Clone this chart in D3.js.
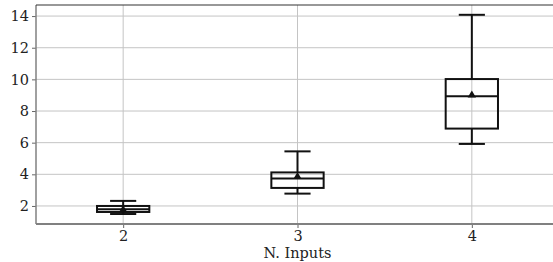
<!DOCTYPE html>
<html lang="en">
<head>
    <meta charset="UTF-8">
    <title>N. Inputs box plot</title>
    <script src="https://d3js.org/d3.v7.min.js"></script>
    <style>
        body { margin: 0; background: #fff; }
        svg text { font-family: "DejaVu Serif", serif; fill: #222; }
    </style>
</head>
<body>
    <svg width="553" height="262"></svg>
    <script>
        // categories and box statistics
        const categories = [2, 3, 4];
        const whiskerLow = [1.49, 2.78, 5.92];
        const q1 = [1.62, 3.14, 6.89];
        const median = [1.8, 3.73, 8.94];
        const q3 = [2.0, 4.12, 10.02];
        const whiskerHigh = [2.32, 5.45, 14.08];
        const means = [1.75, 3.85, 9.0];
        const yTicks = [2, 4, 6, 8, 10, 12, 14];

        const svg = d3.select("svg");
        const margin = { top: 5, right: -6, bottom: 38, left: 36 };
        const width = 553 - margin.left - margin.right;
        const height = 262 - margin.top - margin.bottom;

        const g = svg.append("g")
            .attr("transform", `translate(${margin.left},${margin.top})`);

        const x = d3.scaleLinear().domain([1.5, 4.5]).range([0, width]);
        const y = d3.scaleLinear().domain([0.86, 14.7]).range([height, 0]);

        // grid
        g.selectAll(".hgrid").data(yTicks).enter().append("line")
            .attr("x1", 0).attr("x2", width)
            .attr("y1", d => y(d)).attr("y2", d => y(d))
            .attr("stroke", "#c4c4c4").attr("stroke-width", 1);
        g.selectAll(".vgrid").data(categories).enter().append("line")
            .attr("y1", 0).attr("y2", height)
            .attr("x1", d => x(d)).attr("x2", d => x(d))
            .attr("stroke", "#c4c4c4").attr("stroke-width", 1);

        // axes
        const yAxis = g.append("g")
            .call(d3.axisLeft(y).tickValues(yTicks).tickSize(4).tickPadding(3));
        yAxis.select(".domain").remove();
        yAxis.selectAll("line").attr("stroke", "#666");
        yAxis.selectAll("text").style("font-size", "14.5px").attr("fill", "#222");

        const xAxis = g.append("g")
            .attr("transform", `translate(0,${height})`)
            .call(d3.axisBottom(x).tickValues(categories).tickFormat(d3.format("d")).tickSize(4).tickPadding(3));
        xAxis.select(".domain").remove();
        xAxis.selectAll("line").attr("stroke", "#666");
        xAxis.selectAll("text").style("font-size", "14.5px").attr("fill", "#222");

        // spines
        g.append("line").attr("x1", 0).attr("x2", 0).attr("y1", 0).attr("y2", height)
            .attr("stroke", "#808080").attr("stroke-width", 1.5);
        g.append("line").attr("x1", 0).attr("x2", width).attr("y1", height).attr("y2", height)
            .attr("stroke", "#808080").attr("stroke-width", 2);
        g.append("line").attr("x1", 0).attr("x2", width).attr("y1", 0).attr("y2", 0)
            .attr("stroke", "#333").attr("stroke-width", 1.2);

        // boxes
        const boxW = x(1.5 + 0.3) - x(1.5);
        const capW = boxW / 2;
        categories.forEach((c, i) => {
            const cx = x(c);
            const line = (x1, x2, y1, y2) => g.append("line")
                .attr("x1", x1).attr("x2", x2).attr("y1", y1).attr("y2", y2)
                .attr("stroke", "#111").attr("stroke-width", 2);
            // whiskers
            line(cx, cx, y(q3[i]), y(whiskerHigh[i]));
            line(cx, cx, y(q1[i]), y(whiskerLow[i]));
            line(cx - capW / 2, cx + capW / 2, y(whiskerHigh[i]), y(whiskerHigh[i]));
            line(cx - capW / 2, cx + capW / 2, y(whiskerLow[i]), y(whiskerLow[i]));
            // box
            g.append("rect")
                .attr("x", cx - boxW / 2).attr("width", boxW)
                .attr("y", y(q3[i])).attr("height", y(q1[i]) - y(q3[i]))
                .attr("fill", "none").attr("stroke", "#111").attr("stroke-width", 2);
            // median
            line(cx - boxW / 2, cx + boxW / 2, y(median[i]), y(median[i]));
            // mean marker
            g.append("path")
                .attr("d", d3.symbol(d3.symbolTriangle, 30)())
                .attr("transform", `translate(${cx},${y(means[i])})`)
                .attr("fill", "#111");
        });

        // axis label
        svg.append("text")
            .attr("x", margin.left + x(3))
            .attr("y", 258)
            .attr("text-anchor", "middle")
            .style("font-size", "14.5px")
            .text("N. Inputs");
    </script>
</body>
</html>
